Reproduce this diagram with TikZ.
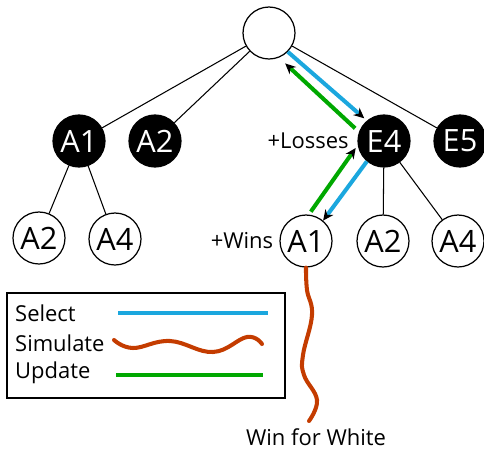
\documentclass[tikz,border=0pt]{standalone}
\usepackage{fontspec}
\setmainfont{Open Sans}
\usetikzlibrary{arrows.meta}
\usetikzlibrary{positioning}
\definecolor{selblue}{RGB}{27,167,222}
\definecolor{updgreen}{RGB}{0,168,0}
\definecolor{simred}{RGB}{196,60,0}
\tikzset{
  posnode/.style={circle,draw,line width=0.7pt,fill=white,minimum size=1.04cm,inner sep=0pt,font=\fontsize{17.5}{19}\selectfont},
  leaf/.style={posnode},
  blackpos/.style={posnode,fill=black,text=white},
  branch/.style={line width=0.6pt},
  sel/.style={selblue,line width=2.3pt},
  upd/.style={updgreen,line width=2.3pt},
  sim/.style={simred,line width=2.3pt,line cap=round},
  headtip/.style={-{Stealth[color=black,length=6pt,width=5.5pt]}},
  lbl/.style={font=\fontsize{12.5}{15}\selectfont}
}

\begin{document}
\begin{tikzpicture}[x=0.02cm,y=-0.02cm]
    \useasboundingbox (0,0) rectangle (484,450);
    % tree
    \node[posnode] (root) at (269,33) {};
    \node[blackpos] (a1) at (79,141) {A1};
    \node[blackpos] (a2) at (155,141) {A2};
    \node[blackpos] (e4) at (384,141) {E4};
    \node[blackpos] (e5) at (460,141) {E5};
    \node[leaf] (a1a2) at (39,238) {A2};
    \node[leaf] (a1a4) at (115,239) {A4};
    \node[leaf] (e4a1) at (306,241) {A1};
    \node[leaf] (e4a2) at (383,241) {A2};
    \node[leaf] (e4a4) at (458,241) {A4};
    \draw[branch] (root) -- (a1);
    \draw[branch] (root) -- (a2);
    \draw[branch] (root) -- (e5);
    \draw[branch] (a1) -- (a1a2);
    \draw[branch] (a1) -- (a1a4);
    \draw[branch] (e4) -- (e4a2);
    \draw[branch] (e4) -- (e4a4);
    % select / update
    \draw[sel,headtip,shorten >=2pt] (root.-45) -- (e4.130);
    \draw[upd,headtip,shorten <=3pt,shorten >=4.8pt] (e4.160) -- (root.-68);
    \draw[sel,headtip] (e4.-130) -- (e4a1.50);
    \draw[upd,headtip,shorten <=2pt,shorten >=2pt] (e4a1.84) -- (e4.-171);
    \node[lbl,left=1.5pt of e4] (losses) {+Losses};
    \node[lbl,left=0pt of e4a1] (wins) {+Wins};
    % simulate
    \node[lbl] (win) at (316,437) {Win for White};
    \draw[sim] plot[smooth,tension=0.7] coordinates {(e4a1.south) (307,290) (312,315) (303,355) (304,375) (317,400) (309,421)};
    % legend
    \draw[line width=0.7pt] (7,293) rectangle (285,398);
    \node[lbl,anchor=west] (seltxt) at (9,313) {Select};
    \node[lbl,anchor=west] (simtxt) at (9,343) {Simulate};
    \node[lbl,anchor=west] (updtxt) at (9,373) {Update};
    \draw[sel] (118,313) -- (268,313);
    \draw[sim] plot[smooth,tension=0.7] coordinates {(114,340) (133,348) (170,341) (213,352) (247,337) (262,344)};
    \draw[upd] (116,375) -- (263,375);
\end{tikzpicture}
\end{document}
